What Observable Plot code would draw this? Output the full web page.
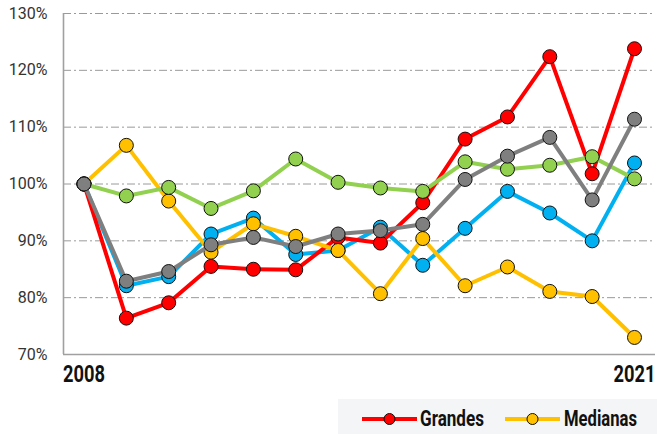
<!DOCTYPE html>
<html>
<head>
<meta charset="utf-8">
<script src="https://cdn.jsdelivr.net/npm/d3@7"></script>
<script src="https://cdn.jsdelivr.net/npm/@observablehq/plot@0.6"></script>
<style>
  body { margin: 0; background: #fff; }
  #chart svg { display: block; }
  #legend { margin-left: 338px; margin-top: 4px; }
  #legend svg { display: block; }
</style>
</head>
<body>
<div id="chart"></div>
<div id="legend"></div>
<script>
const years = [2008, 2009, 2010, 2011, 2012, 2013, 2014, 2015, 2016, 2017, 2018, 2019, 2020, 2021];
const grandes  = [100, 76.4, 79.1, 85.5, 85.0, 84.9, 90.6, 89.6, 96.7, 107.9, 111.8, 122.4, 101.8, 123.8];
const medianas = [100, 106.8, 97.0, 88.0, 93.0, 90.8, 88.3, 80.7, 90.4, 82.1, 85.4, 81.1, 80.2, 73.0];
const azul     = [100, 82.1, 83.7, 91.2, 94.0, 87.6, 88.3, 92.4, 85.7, 92.2, 98.7, 94.9, 90.0, 103.7];
const gris     = [100, 82.9, 84.6, 89.3, 90.6, 89.0, 91.2, 91.8, 92.9, 100.8, 104.9, 108.2, 97.2, 111.4];
const verde    = [100, 97.9, 99.4, 95.7, 98.8, 104.4, 100.3, 99.3, 98.7, 103.9, 102.6, 103.3, 104.8, 100.9];
const yTicks = [70, 80, 90, 100, 110, 120, 130];
const xLabels = [2008, 2021];

// drawing order (bottom to top)
const series = [
  {name: "Azul", values: azul, color: "#00b0f0"},
  {name: "Grandes", values: grandes, color: "#ff0000"},
  {name: "Medianas", values: medianas, color: "#ffc000"},
  {name: "Verde", values: verde, color: "#92d050"},
  {name: "Gris", values: gris, color: "#7f7f7f"}
];
const legendItems = [
  {name: "Grandes", color: "#ff0000"},
  {name: "Medianas", color: "#ffc000"}
];

const boldFont = "Roboto, 'Liberation Sans', sans-serif";
const x0 = years[0] - 0.484, x1 = years[years.length - 1] + 0.496;

const marks = [
  Plot.ruleY(yTicks.slice(1), {stroke: "#9a9a9a", strokeWidth: 1, strokeDasharray: "8,3,2,3"}),
  Plot.ruleX([x0], {stroke: "#a0a0a0", strokeWidth: 1.6}),
  Plot.ruleY([yTicks[0]], {stroke: "#a0a0a0", strokeWidth: 1.6}),
  Plot.axisY({ticks: yTicks, tickFormat: d => d + "%", tickSize: 0, tickPadding: 16, label: null,
    fontSize: 16, fontFamily: "Roboto, sans-serif", fill: "#333"}),
  Plot.axisX({ticks: xLabels, tickFormat: d => String(d), tickSize: 0, tickPadding: 11, label: null,
    fontSize: 23, fontWeight: "bold", fontFamily: boldFont, fill: "#111"})
];
for (const s of series) {
  const data = years.map((y, i) => ({year: y, value: s.values[i]}));
  marks.push(Plot.line(data, {x: "year", y: "value", stroke: s.color, strokeWidth: 4}));
  marks.push(Plot.dot(data, {x: "year", y: "value", r: 7, fill: s.color, stroke: "#111", strokeWidth: 1}));
}

const chart = Plot.plot({
  width: 657, height: 395,
  marginLeft: 63, marginRight: 2, marginTop: 13, marginBottom: 41,
  x: {domain: [x0, x1], label: null},
  y: {domain: [yTicks[0], yTicks[yTicks.length - 1]], label: null},
  marks
});
document.getElementById("chart").appendChild(chart);

// condensed look for the bold year labels
d3.select(chart).selectAll('g[aria-label="x-axis tick label"] text')
  .attr("textLength", 42).attr("lengthAdjust", "spacingAndGlyphs");

// legend
const lsvg = d3.select("#legend").append("svg").attr("width", 319).attr("height", 35);
lsvg.append("rect").attr("width", 319).attr("height", 35).attr("fill", "#f4f5f7");
const pos = [{lx: 24, tx: 82, tl: 64}, {lx: 167, tx: 226, tl: 73}];
legendItems.forEach((it, i) => {
  const p = pos[i];
  lsvg.append("line").attr("x1", p.lx).attr("x2", p.lx + 55).attr("y1", 20).attr("y2", 20)
    .attr("stroke", it.color).attr("stroke-width", 4);
  lsvg.append("circle").attr("cx", p.lx + 27.5).attr("cy", 20).attr("r", 5.5)
    .attr("fill", it.color).attr("stroke", "#111").attr("stroke-width", 1);
  lsvg.append("text").attr("x", p.tx).attr("y", 27).text(it.name)
    .attr("font-family", boldFont).attr("font-weight", "bold").attr("font-size", 21.5)
    .attr("fill", "#111").attr("textLength", p.tl).attr("lengthAdjust", "spacingAndGlyphs");
});
</script>
</body>
</html>
